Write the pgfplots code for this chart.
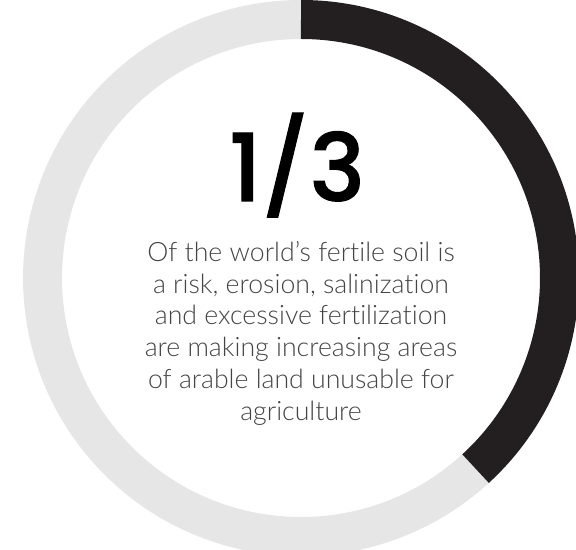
\documentclass[border=0pt]{standalone}
\usepackage{pgfplots}
\pgfplotsset{compat=1.18}
\usepackage{pgfplotstable}
\usepackage{fontspec}
\setmainfont{Lato Light}[Ligatures=NoCommon]
\newfontfamily\numfont{Poppins Medium}[FakeBold=1.2]
\definecolor{ringdark}{HTML}{231F20}
\definecolor{ringlight}{HTML}{E6E6E6}
\definecolor{txt}{HTML}{444444}
\pgfplotstableread{
label share
risk 38.2
rest 61.8
}\shares
\pgfplotstablegetelem{0}{share}\of\shares
\pgfmathsetmacro\darkang{\pgfplotsretval*3.6}
\pgfmathsetmacro\darkend{90-\darkang}
\begin{document}
\begin{tikzpicture}
\begin{axis}[width=432pt,height=420pt,scale only axis,
  xmin=0,xmax=576,ymin=0,ymax=560,hide axis,clip=true]
\draw[ringlight,line width=29.25pt]
  ([shift={(\darkend:193.875pt)}]axis cs:301,272) arc[start angle=\darkend,end angle=-270,radius=193.875pt];
\draw[ringdark,line width=29.25pt]
  ([shift={(90:193.875pt)}]axis cs:301,272) arc[start angle=90,end angle=\darkend,radius=193.875pt];
\node[anchor=base,inner sep=0pt,text=black] at (axis cs:297,349) {\numfont\fontsize{70}{70}\selectfont 1/3};
\begin{scope}[every node/.style={anchor=base,inner sep=0pt,text=txt,font=\fontsize{20}{24}\selectfont}]
\node at (axis cs:301,288) {Of the world’s fertile soil is};
\node at (axis cs:301,256) {a risk, erosion, salinization};
\node at (axis cs:301,225) {and excessive fertilization};
\node at (axis cs:301,193) {are making increasing areas};
\node at (axis cs:301,161) {of arable land unusable for};
\node at (axis cs:301,129) {agriculture};
\end{scope}
\end{axis}
\end{tikzpicture}
\end{document}
